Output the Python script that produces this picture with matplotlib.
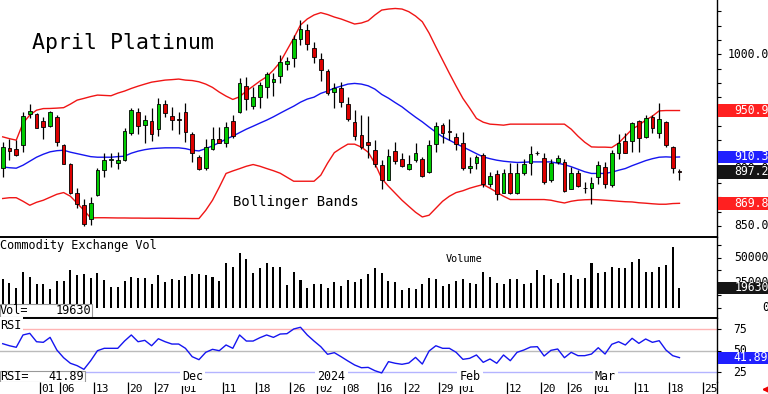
import numpy as np
import matplotlib
matplotlib.use('Agg')
import matplotlib.pyplot as plt
from matplotlib import transforms
from matplotlib.patches import Rectangle

plt.rcParams['font.family'] = ['DejaVu Sans Mono', 'DejaVu Sans']

# daily candles, 24 Oct 2023 .. 19 Mar 2024
opens = [901.1, 918.3, 916.9, 920.6, 947.5, 947.5, 941.6, 937.2, 945.4, 920.6,
         904.6, 878.4, 868.7, 856.5, 876.9, 898.7, 907.8, 905.1, 907.5, 930.9,
         949.8, 938.1, 941.6, 934.4, 956.2, 946.0, 943.1, 949.2, 930.2, 910.4,
         901.1, 917.7, 926.1, 922.6, 941.6, 949.8, 972.2, 955.0, 962.4, 971.1,
         976.0, 981.0, 991.2, 997.0, 1013.4, 1021.2, 1005.2, 995.6, 985.4, 967.3,
         970.2, 956.2, 941.0, 929.4, 923.5, 916.2, 903.7, 890.6, 915.6, 908.4,
         899.6, 907.5, 908.1, 897.3, 921.5, 938.1, 932.4, 927.4, 922.6, 900.8,
         905.1, 911.9, 886.5, 895.0, 878.9, 896.4, 878.4, 896.7, 905.1, 913.6,
         909.0, 890.0, 906.0, 906.0, 882.7, 896.4, 883.0, 883.6, 892.4, 901.6,
         885.6, 913.4, 924.4, 924.4, 941.6, 927.9, 944.9, 931.4, 940.5, 918.6,
         897.4]
highs = [923.5, 925.6, 925.0, 949.2, 956.5, 948.6, 945.4, 950.6, 946.9, 921.5,
         905.1, 883.6, 874.0, 874.9, 901.1, 913.9, 913.6, 914.8, 935.2, 952.7,
         953.3, 946.9, 952.7, 961.5, 960.0, 954.1, 949.8, 957.1, 932.3, 911.9,
         925.9, 936.6, 936.6, 941.0, 946.9, 979.0, 979.9, 971.6, 976.0, 984.8,
         983.4, 999.4, 997.9, 1016.9, 1030.0, 1026.2, 1010.5, 1001.4, 986.9, 975.1,
         976.0, 962.9, 951.2, 946.9, 946.0, 925.0, 907.5, 917.7, 923.5, 913.4,
         911.9, 922.1, 910.4, 925.0, 941.0, 939.6, 943.1, 931.4, 932.3, 909.9,
         911.9, 913.9, 897.3, 898.7, 900.2, 905.1, 905.1, 908.1, 919.5, 915.4,
         913.4, 908.1, 911.9, 908.1, 901.6, 898.7, 888.5, 892.4, 906.9, 906.0,
         916.2, 930.2, 930.9, 940.5, 942.5, 946.9, 946.9, 957.6, 941.6, 919.7,
         900.2]
lows = [892.9, 907.5, 911.0, 914.5, 944.0, 935.5, 925.6, 936.8, 919.7, 904.0,
        877.7, 866.1, 850.0, 851.2, 876.3, 892.9, 901.4, 900.2, 907.1, 929.4,
        930.2, 922.1, 924.4, 928.5, 945.4, 933.7, 930.2, 923.5, 906.0, 898.7,
        898.7, 916.2, 922.1, 918.6, 926.5, 948.4, 951.2, 952.1, 952.7, 961.5,
        963.5, 974.6, 986.2, 988.6, 1008.1, 1003.7, 992.1, 976.9, 964.4, 952.7,
        954.1, 941.9, 925.0, 917.7, 909.0, 901.6, 882.7, 890.0, 904.6, 901.6,
        898.7, 906.0, 892.4, 895.9, 914.8, 922.1, 925.0, 916.2, 898.7, 895.9,
        899.4, 884.1, 884.1, 872.5, 878.4, 877.7, 877.7, 894.4, 894.4, 911.9,
        887.1, 888.5, 904.6, 879.8, 881.9, 884.1, 878.4, 869.6, 887.1, 883.6,
        884.1, 908.1, 913.4, 914.8, 914.8, 926.5, 930.9, 927.0, 919.1, 895.9,
        890.6]
closes = [919.1, 915.6, 912.3, 946.3, 950.4, 935.8, 936.1, 949.8, 923.5, 904.6,
          878.4, 869.6, 852.1, 870.5, 898.7, 907.5, 908.4, 907.5, 932.9, 951.2,
          937.2, 942.5, 930.2, 956.2, 948.4, 942.5, 942.7, 932.3, 913.9, 900.2,
          918.6, 925.9, 922.6, 936.6, 928.5, 974.9, 960.6, 962.4, 973.1, 982.7,
          978.4, 993.0, 994.4, 1013.4, 1022.1, 1008.7, 997.4, 986.2, 966.4, 970.2,
          958.5, 943.1, 928.5, 919.1, 921.2, 904.0, 890.0, 911.0, 906.6, 902.5,
          904.6, 913.9, 893.5, 920.6, 937.2, 931.4, 932.0, 921.5, 900.8, 902.5,
          909.9, 886.5, 893.5, 877.7, 896.4, 878.4, 896.7, 904.6, 912.5, 914.1,
          888.5, 905.1, 909.0, 880.6, 896.4, 884.7, 883.4, 887.6, 903.1, 886.5,
          913.9, 922.6, 914.2, 939.6, 927.0, 944.0, 935.2, 943.1, 920.6, 901.1,
          897.2]

bb_upper = [927.9, 926.3, 925.0, 939.9, 946.9, 951.2, 952.6, 952.7, 953.0, 953.4,
            956.5, 960.0, 961.5, 963.1, 964.4, 964.1, 963.8, 966.1, 967.9, 970.2,
            972.2, 974.0, 975.7, 976.6, 977.5, 977.9, 978.4, 977.5, 977.1, 976.0,
            974.0, 971.1, 967.0, 963.5, 960.6, 962.9, 967.9, 972.2, 976.6, 980.4,
            986.2, 993.2, 1003.7, 1014.2, 1025.6, 1030.9, 1034.4, 1036.4, 1034.8, 1032.6,
            1030.9, 1028.7, 1026.5, 1027.4, 1029.4, 1034.4, 1038.7, 1039.6, 1040.1, 1039.6,
            1037.3, 1033.5, 1028.5, 1018.6, 1006.6, 995.0, 983.4, 972.2, 961.5, 953.0,
            944.0, 940.7, 939.0, 938.6, 938.1, 939.0, 939.0, 939.0, 939.0, 939.0,
            939.0, 939.0, 939.0, 939.0, 934.6, 928.5, 923.2, 919.1, 918.9, 918.9,
            918.6, 922.4, 928.5, 934.6, 938.1, 942.5, 946.0, 950.6, 950.9, 950.9,
            950.9]
bb_mid = [901.6, 900.9, 900.5, 903.1, 906.6, 910.1, 912.7, 914.8, 915.8, 916.2,
          914.5, 913.2, 911.9, 910.6, 910.1, 910.1, 910.1, 910.6, 911.0, 913.6,
          915.4, 916.7, 917.6, 918.0, 918.3, 918.3, 918.3, 917.6, 916.2, 915.6,
          917.6, 920.0, 922.8, 925.9, 928.5, 931.6, 934.6, 937.2, 939.9, 942.5,
          945.4, 948.6, 951.7, 954.7, 958.2, 960.9, 962.6, 965.9, 967.9, 970.5,
          972.2, 974.0, 974.6, 974.0, 972.5, 969.6, 965.0, 961.7, 957.8, 954.1,
          949.5, 945.1, 941.0, 936.4, 932.0, 927.9, 925.0, 921.9, 919.1, 916.2,
          913.2, 910.4, 908.8, 907.5, 906.6, 906.0, 905.5, 905.7, 906.0, 906.0,
          906.0, 906.0, 904.9, 903.6, 901.8, 899.6, 897.4, 895.9, 895.9, 895.9,
          897.0, 898.7, 900.2, 902.7, 904.9, 907.1, 908.8, 910.1, 910.4, 910.1,
          910.3]
bb_lower = [874.0, 874.7, 874.7, 871.6, 868.1, 870.7, 872.5, 875.1, 877.7, 879.2,
            876.0, 869.9, 863.7, 857.0, 857.2, 857.2, 857.1, 857.0, 857.0, 856.9,
            856.9, 856.8, 856.8, 856.8, 856.7, 856.7, 856.6, 856.6, 856.5, 856.5,
            863.7, 872.5, 883.9, 895.9, 898.1, 900.1, 902.2, 903.7, 902.2, 900.2,
            898.3, 896.1, 892.6, 889.1, 889.1, 889.1, 889.1, 894.4, 904.9, 914.1,
            918.0, 921.5, 921.5, 918.9, 914.5, 904.6, 891.5, 884.7, 878.6, 872.5,
            867.2, 862.0, 857.9, 859.4, 865.5, 871.6, 876.0, 879.2, 880.8, 883.0,
            884.7, 886.2, 883.0, 879.5, 876.0, 873.1, 873.1, 873.1, 873.1, 873.1,
            873.1, 872.5, 871.2, 870.1, 871.6, 872.5, 872.9, 873.1, 872.9, 872.5,
            872.1, 871.6, 871.2, 871.0, 870.3, 869.9, 869.4, 869.0, 869.0, 869.6,
            869.8]

volume = [28300, 25000, 20000, 36000, 30700, 23300, 23300, 19000, 26700, 26700,
          37300, 32700, 34000, 30000, 34300, 27700, 21000, 21000, 26700, 31000,
          30000, 30000, 23300, 32300, 26000, 28300, 27700, 31700, 33300, 33300,
          32300, 30700, 26700, 44300, 41000, 55000, 49000, 34300, 39300, 44300,
          41000, 41000, 22700, 36000, 27300, 19300, 24000, 24000, 20000, 25700,
          21700, 27300, 26000, 28300, 33300, 39300, 35000, 26700, 26000, 17300,
          20000, 18300, 23300, 30000, 29000, 21700, 23300, 26700, 29000, 24300,
          24000, 36000, 30700, 25000, 24000, 28300, 29000, 23300, 24700, 37700,
          32300, 29000, 24300, 34300, 32300, 28300, 29700, 45000, 35000, 36000,
          41000, 40000, 40000, 45700, 49000, 36000, 36000, 41000, 43000, 61000,
          19630]

rsi = [58.2, 55.8, 54.0, 68.4, 70.3, 60.5, 59.8, 65.6, 50.8, 41.8,
       35.3, 32.5, 28.2, 38.3, 50.0, 52.8, 52.8, 52.8, 61.3, 68.4,
       60.5, 62.1, 55.8, 64.0, 60.5, 57.8, 57.8, 52.8, 43.0, 39.5,
       48.1, 51.6, 50.0, 56.7, 52.8, 68.4, 61.3, 61.3, 65.2, 68.4,
       65.6, 69.5, 69.9, 75.4, 77.4, 68.4, 61.3, 54.7, 45.8, 47.7,
       43.0, 38.0, 33.3, 30.1, 30.5, 26.6, 24.0, 37.2, 35.3, 34.1,
       35.6, 42.2, 34.4, 49.6, 55.8, 52.8, 52.8, 48.1, 39.9, 41.1,
       45.0, 36.4, 40.3, 35.3, 45.0, 38.3, 48.1, 50.8, 54.3, 54.7,
       43.8, 50.4, 52.0, 41.8, 48.1, 44.2, 44.2, 46.1, 53.5, 46.1,
       57.5, 60.5, 56.7, 64.5, 58.6, 63.7, 59.8, 61.7, 50.8, 44.2,
       41.89]

# date ticks (bar index, label) and month names
day_ticks = [6, 9, 14, 19, 23, 27, 33, 38, 43, 47, 51, 56, 60, 65, 68, 75, 80, 84, 88, 94, 99, 104]
day_labels = ['01', '06', '13', '20', '27', '01', '11', '18', '26', '02', '08',
              '16', '22', '29', '01', '12', '20', '26', '01', '11', '18', '25']
month_ticks = [27, 47, 68, 88]
month_labels = ['Dec', '2024', 'Feb', 'Mar']

x = np.arange(len(closes))
o = np.array(opens); c = np.array(closes)
up = c >= o

W, H = 768, 394
fig = plt.figure(figsize=(W / 100, H / 100), dpi=100)
axw = 716.7 / W
ax_p = fig.add_axes([0, 1 - 237.3 / H, axw, 237.3 / H])
ax_v = fig.add_axes([0, 1 - 317.7 / H, axw, 80.4 / H])
ax_r = fig.add_axes([0, 1 - 382 / H, axw, 64.3 / H])

for ax in (ax_p, ax_v, ax_r):
    ax.set_xlim(-0.4, 105.5)
    ax.set_xticks([])
    for s in ('left', 'bottom'):
        ax.spines[s].set_visible(False)
    ax.spines['right'].set_linewidth(1.0)
    ax.spines['top'].set_linewidth(1.4)
    ax.yaxis.tick_right()
    ax.tick_params(axis='y', direction='out', length=3, width=0.8, labelright=False)
ax_p.spines['top'].set_visible(False)

# price panel
ax_p.set_ylim(840.1, 1047.5)
ax_p.set_yticks(np.arange(850, 1047, 12.5))
ax_p.plot(x, bb_upper, color='#F01515', lw=1.0)
ax_p.plot(x, bb_lower, color='#F01515', lw=1.0)
ax_p.plot(x, bb_mid, color='#1515F0', lw=1.0)
ax_p.vlines(x, lows, highs, color='black', lw=0.9, zorder=3)
body_lo = np.minimum(o, c)
body_h = np.maximum(np.abs(c - o), 0.6)
ax_p.bar(x, body_h, bottom=body_lo, width=0.55,
         color=np.where(up, '#00CC00', '#DD0000'), edgecolor='black', lw=0.6, zorder=4)
ax_p.text(32 / 716.7, (237.3 - 43) / 237.3, 'April Platinum', transform=ax_p.transAxes,
          fontsize=15.5, va='center', ha='left')
ax_p.text(233 / 716.7, (237.3 - 202) / 237.3, 'Bollinger Bands', transform=ax_p.transAxes,
          fontsize=10, va='center', ha='left')

# volume panel
ax_v.set_ylim(-10200, 70200)
ax_v.set_yticks(np.arange(0, 70001, 12500))
ax_v.bar(x, volume, width=0.3, color='black')
ax_v.text(0, (317.7 - 245) / 80.4, 'Commodity Exchange Vol', transform=ax_v.transAxes,
          fontsize=8.6, va='center', ha='left')
ax_v.text(446 / 716.7, (317.7 - 259) / 80.4, 'Volume', transform=ax_v.transAxes,
          fontsize=7.4, va='center', ha='left')
ax_v.add_patch(Rectangle((0, 0.01), 91.7 / 716.7, 0.16, transform=ax_v.transAxes,
                         facecolor='white', edgecolor='#999999', lw=0.8, zorder=5))
ax_v.text(0, 0.09, 'Vol=', transform=ax_v.transAxes, fontsize=8.6, va='center', zorder=6)
ax_v.text(91 / 716.7, 0.09, str(volume[-1]), transform=ax_v.transAxes, fontsize=8.6,
          va='center', ha='right', zorder=6)

# RSI panel
ax_r.set_ylim(13.4, 88.6)
ax_r.set_yticks([25, 50, 75])
ax_r.axhline(75, color='#FFB4B4', lw=1.0)
ax_r.axhline(50, color='#BBBBBB', lw=1.0)
ax_r.axhline(25, color='#B4B4FF', lw=1.0)
ax_r.plot(x, rsi, color='#1515F0', lw=1.0, zorder=3)
ax_r.text(0, (382 - 325.7) / 64.3, 'RSI', transform=ax_r.transAxes, fontsize=8.6, va='center',
          bbox=dict(facecolor='white', edgecolor='none', pad=1.5))
ax_r.add_patch(Rectangle((0, 0.0), 85 / 716.7, 0.17, transform=ax_r.transAxes,
                         facecolor='white', edgecolor='#999999', lw=0.8, zorder=5))
ax_r.text(0, 0.085, 'RSI=', transform=ax_r.transAxes, fontsize=8.6, va='center', zorder=6)
ax_r.text(84 / 716.7, 0.085, f'{rsi[-1]:.2f}', transform=ax_r.transAxes, fontsize=8.6,
          va='center', ha='right', zorder=6)
tr_r = transforms.blended_transform_factory(ax_r.transData, ax_r.transAxes)
for k, lab in zip(month_ticks, month_labels):
    ax_r.text(k - 0.5, (382 - 377) / 64.3, lab, transform=tr_r, fontsize=8.4, va='center',
              ha='left', zorder=4, bbox=dict(facecolor='white', edgecolor='none', pad=1.5))

# bottom date strip
ax_r.set_xticks([k - 0.5 for k in day_ticks])
ax_r.tick_params(axis='x', direction='out', length=8.5, width=0.9, labelbottom=False)
for k, lab in zip(day_ticks, day_labels):
    ax_r.text(k - 0.5 + 0.2, -7 / 64.3, lab, transform=tr_r, fontsize=8, va='center', ha='left')
fig.add_artist(plt.Line2D([axw, axw], [0, 12 / H], color='black', lw=1.0))
ax_r.annotate('', xy=(759, 4.5), xytext=(770, 4.5), xycoords='figure pixels',
              textcoords='figure pixels',
              arrowprops=dict(arrowstyle='-|>', color='#EE0000', lw=1.5, mutation_scale=7))

# right-hand scale labels and value boxes
fs_r = 8.3
xr = 769 / 716.7
xl = 733 / 716.7
bx = 717.7 / 716.7


def scale_labels(ax, vals, texts, right=True):
    tr = transforms.blended_transform_factory(ax.transAxes, ax.transData)
    for v, t in zip(vals, texts):
        ax.text(xr if right else xl, v, t, transform=tr, fontsize=fs_r, va='center',
                ha='right' if right else 'left', clip_on=False, zorder=6)


def value_box(ax, v, txt, color, h, right=True):
    tr = transforms.blended_transform_factory(ax.transAxes, ax.transData)
    ax.add_patch(Rectangle((bx, v - h / 2), 0.08, h, transform=tr, facecolor=color,
                           edgecolor='none', clip_on=False, zorder=7))
    ax.text(xr if right else xl, v, txt, transform=tr, fontsize=fs_r, color='white',
            va='center', ha='right' if right else 'left', clip_on=False, zorder=8)


scale_labels(ax_p, [1000, 950, 900, 850], ['1000.0', '950.0', '900.0', '850.0'])
value_box(ax_p, bb_upper[-1], f'{bb_upper[-1]:.1f}', '#FF2020', 11)
value_box(ax_p, bb_mid[-1], f'{bb_mid[-1]:.1f}', '#2020FF', 10.5)
value_box(ax_p, closes[-1], f'{closes[-1]:.1f}', '#151515', 11.5)
value_box(ax_p, bb_lower[-1], f'{bb_lower[-1]:.1f}', '#FF2020', 11)

scale_labels(ax_v, [50000, 25000, 0], ['50000', '25000', '0'])
value_box(ax_v, volume[-1], str(volume[-1]), '#151515', 12300)

scale_labels(ax_r, [75, 50, 25], ['75', '50', '25'], right=False)
value_box(ax_r, rsi[-1], f'{rsi[-1]:.2f}', '#2020FF', 14, right=False)

fig.savefig('out.png', dpi=100)
